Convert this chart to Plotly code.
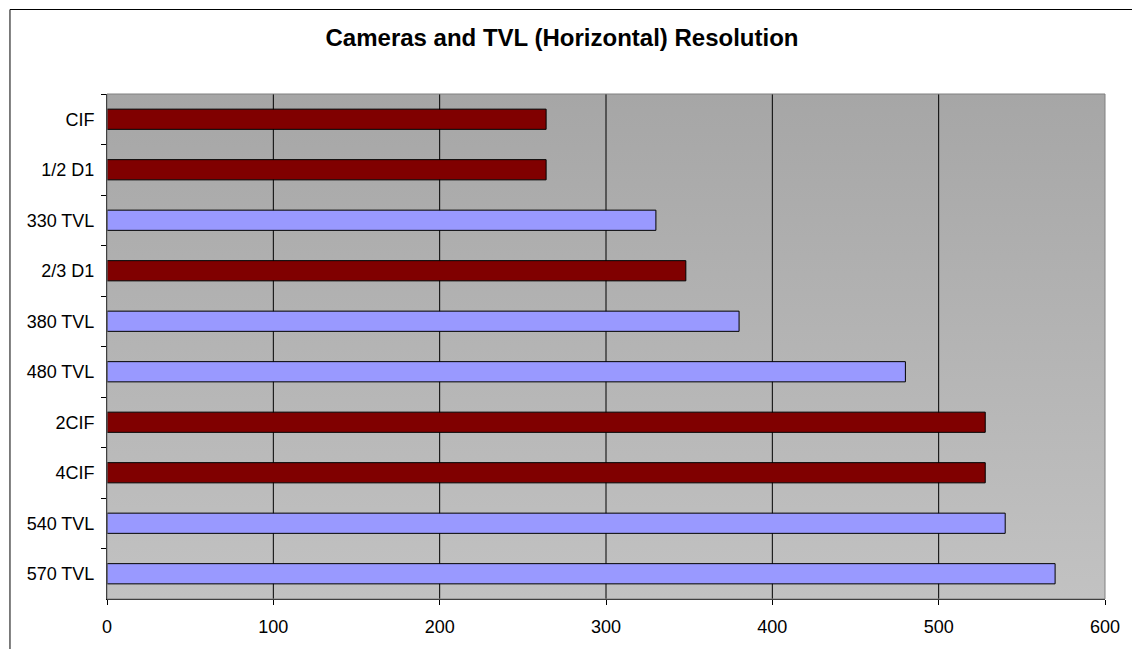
import plotly.graph_objects as go

categories = ["CIF", "1/2 D1", "330 TVL", "2/3 D1", "380 TVL", "480 TVL",
              "2CIF", "4CIF", "540 TVL", "570 TVL"]
values = [264, 264, 330, 348, 380, 480, 528, 528, 540, 570]
kinds = ["digital", "digital", "tvl", "digital", "tvl", "tvl",
         "digital", "digital", "tvl", "tvl"]
x_ticks = [0, 100, 200, 300, 400, 500, 600]

color_map = {"digital": "#800000", "tvl": "#9999FF"}
bar_colors = [color_map[k] for k in kinds]

W, H = 1132, 649
L, R, T, B = 107, 17, 94, 47
pw, ph = W - L - R, H - T - B

fig = go.Figure()

# background gradient (base subplot)
fig.add_trace(go.Scatter(
    x=[x_ticks[0], x_ticks[-1], x_ticks[-1], x_ticks[0], x_ticks[0]],
    y=[0, 0, 1, 1, 0], mode="lines", line=dict(width=0),
    fill="toself",
    fillgradient=dict(type="vertical",
                      colorscale=[[0, "#C2C2C2"], [1, "#A6A6A6"]]),
    hoverinfo="skip", showlegend=False, xaxis="x", yaxis="y"))

# vertical gridlines (base subplot, above gradient, below bars)
gx, gy = [], []
for t in x_ticks[1:-1]:
    gx += [t, t, None]
    gy += [0, 1, None]
fig.add_trace(go.Scatter(x=gx, y=gy, mode="lines",
                         line=dict(color="black", width=1),
                         hoverinfo="skip", showlegend=False,
                         xaxis="x", yaxis="y"))

# bars (overlay subplot)
fig.add_trace(go.Bar(
    y=categories, x=values, orientation="h",
    marker=dict(color=bar_colors, line=dict(color="black", width=1)),
    showlegend=False, xaxis="x2", yaxis="y2"))

axis_font = dict(family="Liberation Sans, Arial, sans-serif", size=18, color="black")

fig.update_layout(
    width=W, height=H,
    margin=dict(l=L, r=R, t=T, b=B),
    paper_bgcolor="white", plot_bgcolor="rgba(0,0,0,0)",
    bargap=0.6,
    hovermode=False,
    title=dict(text="<b>Cameras and TVL (Horizontal) Resolution</b>",
               x=562 / W, xanchor="center", xref="container",
               y=1 - 38 / H, yanchor="middle",
               font=dict(family="Liberation Sans, Arial, sans-serif", size=24, color="black")),
    xaxis=dict(range=[x_ticks[0], x_ticks[-1]], tickvals=x_ticks,
               ticks="outside", ticklen=5, tickcolor="black",
               showgrid=False, zeroline=False, showline=True,
               linecolor="black", linewidth=1, tickfont=axis_font,
               ticklabelstandoff=6),
    yaxis=dict(range=[0, 1], visible=False, fixedrange=True),
    xaxis2=dict(range=[x_ticks[0], x_ticks[-1]], overlaying="x",
                visible=False, showgrid=False),
    yaxis2=dict(type="category", categoryorder="array", categoryarray=categories,
                range=[len(categories) - 0.5, -0.5], overlaying="y",
                side="left", ticks="outside", ticklen=5, tickcolor="black",
                tickson="boundaries", showgrid=False, showline=True,
                linecolor="black", linewidth=1, tickfont=axis_font,
                ticklabelstandoff=8),
    shapes=[
        # plot-area border (right/top edge)
        dict(type="rect", xref="paper", yref="paper", x0=0, y0=0, x1=1, y1=1,
             line=dict(color="#808080", width=1), layer="above"),
        # outer chart frame
        dict(type="rect", xref="paper", yref="paper",
             x0=(9 - L) / pw, y0=-0.3, x1=1.3, y1=(H - B - 9) / ph,
             line=dict(color="black", width=1), layer="above"),
    ],
)

fig.write_html("out.html",
               config={"displayModeBar": False, "staticPlot": True},
               post_script="document.body.style.margin='0';document.body.style.overflow='hidden';")
